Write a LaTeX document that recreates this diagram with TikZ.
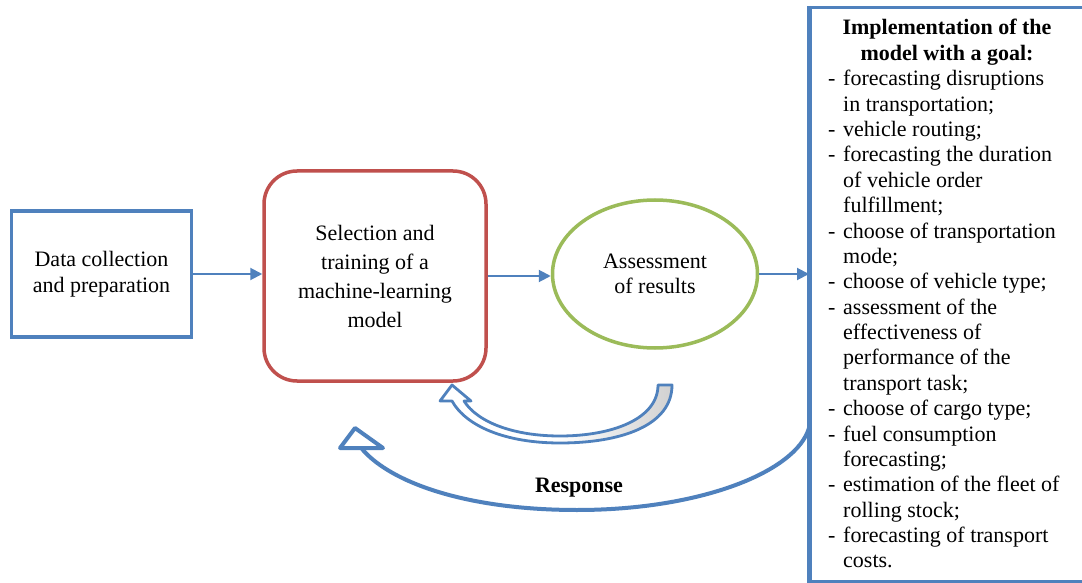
\documentclass[tikz,border=0pt]{standalone}
\usepackage{fontspec}
\setmainfont{Liberation Serif}
\usetikzlibrary{arrows.meta,shapes.geometric,calc}
\definecolor{oblue}{HTML}{4F81BD}
\definecolor{ored}{HTML}{C0504D}
\definecolor{ogreen}{HTML}{9BBB59}
\begin{document}
\begin{tikzpicture}[x=1pt,y=-1pt,
  txt/.style={font=\fontsize{22}{26}\selectfont, align=center, inner sep=0pt},
  databox/.style={draw=oblue, line width=3.5pt, rectangle, minimum width=180pt, minimum height=126pt, txt},
  modelbox/.style={draw=ored, line width=3.5pt, rectangle, rounded corners=33pt, minimum width=222pt, minimum height=210pt, txt, font=\fontsize{22}{29}\selectfont},
  assessell/.style={draw=ogreen, line width=3.5pt, ellipse, minimum width=205pt, minimum height=148pt, txt, font=\fontsize{22}{25.5}\selectfont},
  implbox/.style={draw=oblue, line width=3pt, rectangle, minimum width=300pt, minimum height=574pt, inner sep=0pt},
  conn/.style={draw=oblue, line width=2pt, -{Triangle[length=12pt,width=12pt]}},
  listline/.style={font=\fontsize{22}{25}\selectfont, inner sep=0pt, anchor=base west},
  headline/.style={font=\fontsize{22}{25}\selectfont\bfseries, inner sep=0pt, anchor=base},
  bigarrow/.style={draw=oblue, line width=4pt, line join=round}
]
\useasboundingbox (0,0) rectangle (1082,583);
\fill[white] (0,0) rectangle (1082,583);

\node[databox] (data) at (101.5,274) {Data collection\\and preparation};
\node[modelbox] (model) at (375,276) {Selection and\\training of a\\machine-learning\\model};
\node[assessell] (assess) at (655,274) {Assessment\\of results};
\node[implbox, anchor=north west] (impl) at (809,6) {};
\draw[oblue, line width=4.5pt] (impl.north west) -- (impl.south west);

\draw[conn] (data.east) -- (data.east -| model.west);
\draw[conn] (model.east) -- (model.east -| assess.west);
\draw[conn] (assess.east) -- (assess.east -| impl.west);

% heading of the implementation box
\node[headline] (h1) at (947,35) {Implementation of the};
\node[headline] (h2) at (947,60.4) {model with a goal:};

\foreach \d/\t [count=\i from 0] in {
  1/forecasting disruptions,
  0/in transportation;,
  1/vehicle routing;,
  1/forecasting the duration,
  0/of vehicle order,
  0/fulfillment;,
  1/choose of transportation,
  0/mode;,
  1/choose of vehicle type;,
  1/assessment of the,
  0/effectiveness of,
  0/performance of the,
  0/transport task;,
  1/choose of cargo type;,
  1/fuel consumption,
  0/forecasting;,
  1/estimation of the fleet of,
  0/rolling stock;,
  1/forecasting of transport,
  0/costs.}{
  \node[listline] (L\i) at (843,{35+25.38*(\i+2)}) {\t};
  \ifnum\d=1 \node[listline] (D\i) at (828,{35+25.38*(\i+2)}) {-};\fi
}

% small curved block arrow (assessment -> model)
\coordinate (sTip) at (452,385);
\path[draw=oblue, line width=2.8pt, line join=round, left color=white, right color=black!18, middle color=white]
  (658,385) -- (672,385)
  .. controls (672,426) and (620,443) .. (560,443)
  .. controls (505,443) and (466,426) .. (452,401)
  -- (440,401) -- (sTip) -- (471,401) -- (464,401)
  .. controls (478,423) and (515,436) .. (560,436)
  .. controls (612,436) and (658,419) .. (658,385) -- cycle;

% response arrow (implementation -> model)
\coordinate (rStart) at (809,428);
\coordinate (rEnd) at (362,449);
\draw[bigarrow] (rStart) .. controls (796,472) and (700,510) .. (577,510)
  .. controls (470,510) and (392,484) .. (rEnd);
\draw[bigarrow, fill=white] (355,428) -- (340,448) -- (383,448) -- cycle;
\node[headline] (resp) at (579,492) {Response};
\end{tikzpicture}
\end{document}
